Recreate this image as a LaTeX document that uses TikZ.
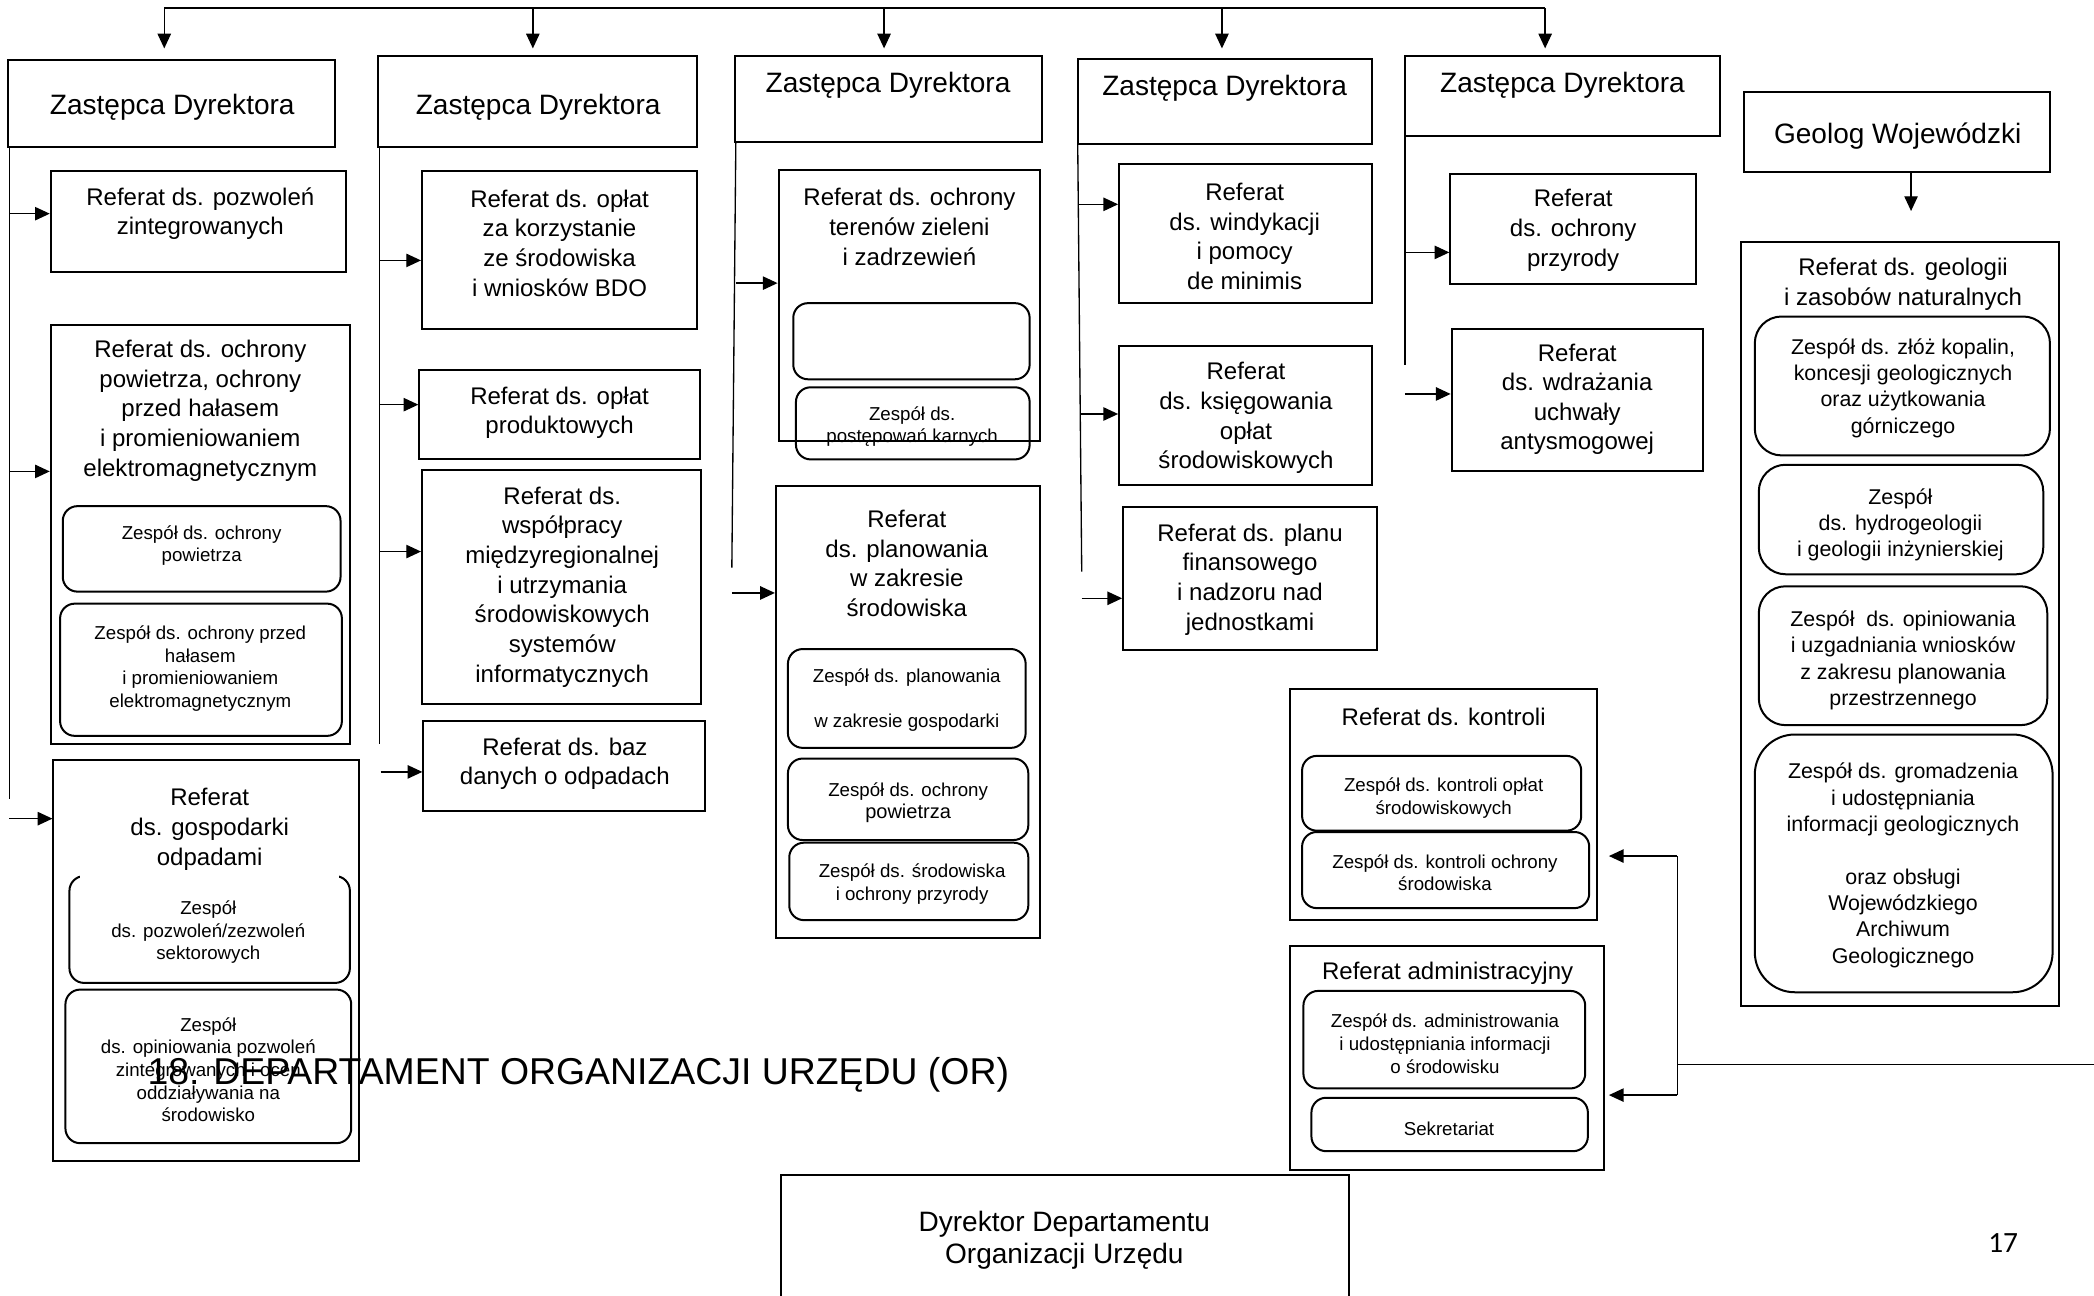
\documentclass[tikz,border=0pt]{standalone}
\usepackage{fontspec}
\setmainfont{Liberation Sans}
\newfontfamily\carlitofont{Carlito}
\usetikzlibrary{arrows.meta,fit}
\begin{document}
\begin{tikzpicture}[x=1pt,y=-1pt,
  bx/.style={draw, line width=1.5pt, inner sep=0pt},
  rbx/.style={draw, line width=1.5pt, inner sep=0pt, rounded corners=11pt},
  gbx/.style={draw, line width=1.5pt, inner sep=0pt, rounded corners=20pt},
  ln/.style={line width=1pt},
  arr/.style={line width=1pt, -{Triangle[length=11pt,width=10pt]}},
  fz/.style={font=\fontsize{21}{25}\selectfont, align=center, inner sep=0pt, yshift=-2pt},
  fr/.style={font=\fontsize{18}{22.2}\selectfont, align=center, inner sep=0pt, yshift=-2pt},
  fs/.style={font=\fontsize{14}{17}\selectfont, align=center, inner sep=0pt, yshift=-2pt},
  fg/.style={font=\fontsize{16}{19.7}\selectfont, align=center, inner sep=0pt, yshift=-2pt}
]
\useasboundingbox (0,0) rectangle (1568,970);
\fill[white] (0,0) rectangle (1568,970);

% ---------- Zastepca boxes ----------
\node[bx, fit={(6,45) (251,110)}] (z1) {};
\node[fz] (z1t) at (129,78) {Zastępca Dyrektora};
\node[bx, fit={(283,42) (522,110)}] (z2) {};
\node[fz] (z2t) at (403,78) {Zastępca Dyrektora};
\node[bx, fit={(550,42) (780,106)}] (z3) {};
\node[fz] (z3t) at (665,62) {Zastępca Dyrektora};
\node[bx, fit={(807,44) (1027,108)}] (z4) {};
\node[fz] (z4t) at (917,64) {Zastępca Dyrektora};
\node[bx, fit={(1052,42) (1288,102)}] (z5) {};
\node[fz] (z5t) at (1170,62) {Zastępca Dyrektora};
\node[bx, fit={(1306,69) (1535,129)}] (geo) {};
\node[fz] (geot) at (1421,100) {Geolog Wojewódzki};

% top bus
\coordinate (b1) at (123,6);
\coordinate (b2) at (399,6);
\coordinate (b3) at (662,6);
\coordinate (b4) at (915,6);
\coordinate (b5) at (1157,6);
\draw[ln] (b1) -- (b5);
\draw[arr, shorten >=8pt] (b1) -- (b1 |- z1.north);
\draw[arr, shorten >=5pt] (b2) -- (b2 |- z2.north);
\draw[arr, shorten >=5pt] (b3) -- (b3 |- z3.north);
\draw[arr, shorten >=7pt] (b4) -- (b4 |- z4.north);
\draw[arr, shorten >=5pt] (b5) -- (b5 |- z5.north);

% ---------- Column 1 ----------
\node[bx, fit={(38,128) (259,204)}] (r1a) {};
\node[fr] (r1at) at (150,158) {Referat ds. pozwoleń\\zintegrowanych};
\node[bx, fit={(38,243) (262,557)}] (r1b) {};
\node[fr] (r1bt) at (150,305.5) {Referat ds. ochrony\\powietrza, ochrony\\przed hałasem\\i promieniowaniem\\elektromagnetycznym};
\node[rbx, fit={(47,379) (255,443)}] (z1b1) {};
\node[fs] (z1b1t) at (151,406.5) {Zespół ds. ochrony\\powietrza};
\node[rbx, fit={(45,452) (256,551)}] (z1b2) {};
\node[fs] (z1b2t) at (150,498.5) {Zespół ds. ochrony przed\\hałasem\\i promieniowaniem\\elektromagnetycznym};
\node[bx, fit={(40,569) (269,869)}] (r1c) {};
\node[fr] (r1ct) at (157,619) {Referat\\ds. gospodarki\\odpadami};
\node[rbx, fit={(52,656) (262,736)}] (z1c1) {};
\fill[white] (60,652.5) rectangle (254,659);
\node[fs] (z1c1t) at (156,696) {Zespół\\ds. pozwoleń/zezwoleń\\sektorowych};
\node[rbx, fit={(49,741) (263,856)}] (z1c2) {};
\node[fs] (z1c2t) at (156,799) {Zespół\\ds. opiniowania pozwoleń\\zintegrowanych i ocen\\oddziaływania na\\środowisko};

\coordinate (c1top) at (7,110);
\coordinate (c1bot) at (7,598);
\draw[ln] (c1top) -- (c1bot);
\coordinate (t1a) at (7,160);
\coordinate (t1b) at (7,353);
\coordinate (t1c) at (7,613);
\draw[arr] (t1a) -- (t1a -| r1a.west);
\draw[arr] (t1b) -- (t1b -| r1b.west);
\draw[arr] (t1c) -- (t1c -| r1c.west);

% ---------- Column 2 ----------
\node[bx, fit={(316,128) (522,246)}] (r2a) {};
\node[fr] (r2at) at (419,180) {Referat ds. opłat\\za korzystanie\\ze środowiska\\i wniosków BDO};
\node[bx, fit={(314,277) (524,344)}] (r2b) {};
\node[fr] (r2bt) at (419,307) {Referat ds. opłat\\produktowych};
\node[bx, fit={(316,352) (525,527)}] (r2c) {};
\node[fr] (r2ct) at (421,437.5) {Referat ds.\\współpracy\\międzyregionalnej\\i utrzymania\\środowiskowych\\systemów\\informatycznych};
\node[bx, fit={(317,540) (528,607)}] (r2d) {};
\node[fr] (r2dt) at (423,570) {Referat ds. baz\\danych o odpadach};

\coordinate (c2top) at (284,110);
\coordinate (c2bot) at (284,557);
\draw[ln] (c2top) -- (c2bot);
\coordinate (t2a) at (284,195);
\coordinate (t2b) at (284,303);
\coordinate (t2c) at (284,413);
\coordinate (t2d) at (285,578);
\draw[arr] (t2a) -- (t2a -| r2a.west);
\draw[arr] (t2b) -- (t2b -| r2b.west);
\draw[arr] (t2c) -- (t2c -| r2c.west);
\draw[arr] (t2d) -- (t2d -| r2d.west);

% ---------- Column 3 ----------
\node[bx, fit={(583,127) (779,330)}] (r3a) {};
\node[fr] (r3at) at (681,168) {Referat ds. ochrony\\terenów zieleni\\i zadrzewień};
\node[rbx, fit={(594,227) (771,284)}] (z3a1) {};
\node[rbx, fit={(596,290) (771,344)}] (z3a2) {};
\node[fs] (z3a2t) at (683,317.5) {Zespół ds.\\postępowań karnych};
\node[bx, fit={(581,364) (779,702)}] (r3b) {};
\node[fr] (r3bt) at (679,420) {Referat\\ds. planowania\\w zakresie\\środowiska};
\node[rbx, fit={(590,486) (768,560)}] (z3b1) {};
\node[fs] (z3b1t) at (679,522) {Zespół ds. planowania\\[17pt]w zakresie gospodarki};
\node[rbx, fit={(590,568) (770,629)}] (z3b2) {};
\node[fs] (z3b2t) at (680,599) {Zespół ds. ochrony\\{\fontsize{15}{17}\selectfont powietrza}};
\node[rbx, fit={(591,631) (770,689)}] (z3b3) {};
\node[fs] (z3b3t) at (683,660) {Zespół ds. środowiska\\i ochrony przyrody};

\coordinate (c3top) at (551,106);
\coordinate (c3bot) at (548,425);
\draw[ln] (c3top) -- (c3bot);
\coordinate (t3a) at (551,212);
\coordinate (t3b) at (548,444);
\draw[arr] (t3a) -- (t3a -| r3a.west);
\draw[arr] (t3b) -- (t3b -| r3b.west);

% ---------- Column 4 ----------
\node[bx, fit={(838,123) (1027,227)}] (r4a) {};
\node[fr] (r4at) at (932,175) {Referat\\ds. windykacji\\i pomocy\\de minimis};
\node[bx, fit={(838,259) (1027,363)}] (r4b) {};
\node[fr] (r4bt) at (933,311) {Referat\\ds. księgowania\\opłat\\środowiskowych};
\node[bx, fit={(841,380) (1031,487)}] (r4c) {};
\node[fr] (r4ct) at (936,432) {Referat ds. planu\\finansowego\\i nadzoru nad\\jednostkami};

\coordinate (c4top) at (807,108);
\coordinate (c4bot) at (810,428);
\draw[ln] (c4top) -- (c4bot);
\coordinate (t4a) at (808,153);
\coordinate (t4b) at (809,310);
\coordinate (t4c) at (810,448);
\draw[arr] (t4a) -- (t4a -| r4a.west);
\draw[arr] (t4b) -- (t4b -| r4b.west);
\draw[arr] (t4c) -- (t4c -| r4c.west);

% ---------- Column 5 ----------
\node[bx, fit={(1086,130) (1270,213)}] (r5a) {};
\node[fr] (r5at) at (1178,170.5) {Referat\\ds. ochrony\\przyrody};
\node[bx, fit={(1087,246) (1275,353)}] (r5b) {};
\node[fr] (r5bt) at (1181,297) {Referat\\ds. wdrażania\\uchwały\\antysmogowej};

\coordinate (c5top) at (1052,102);
\coordinate (c5bot) at (1052,273);
\draw[ln] (c5top) -- (c5bot);
\coordinate (t5a) at (1053,189);
\coordinate (t5b) at (1052,295);
\draw[arr] (t5a) -- (t5a -| r5a.west);
\draw[arr] (t5b) -- (t5b -| r5b.west);

% ---------- Geolog ----------
\node[bx, fit={(1304,181) (1542,753)}] (rg) {};
\node[fr] (rgt) at (1425,211) {Referat ds. geologii\\i zasobów naturalnych};
\node[gbx, fit={(1314,237) (1535,341)}] (zg1) {};
\node[fg] (zg1t) at (1425,288.5) {Zespół ds. złóż kopalin,\\koncesji geologicznych\\oraz użytkowania\\górniczego};
\node[gbx, fit={(1317,348) (1530,430)}] (zg2) {};
\node[fg] (zg2t) at (1423,391) {Zespół\\ds. hydrogeologii\\i geologii inżynierskiej};
\node[gbx, fit={(1317,439) (1533,543)}] (zg3) {};
\node[fg] (zg3t) at (1425,492.5) {Zespół\ \ ds. opiniowania\\i uzgadniania wniosków\\z zakresu planowania\\przestrzennego};
\node[gbx, rounded corners=30pt, fit={(1314,550) (1537,743)}] (zg4) {};
\node[fg] (zg4t) at (1425,646) {Zespół ds. gromadzenia\\i udostępniania\\informacji geologicznych\\[19.7pt]oraz obsługi\\Wojewódzkiego\\Archiwum\\Geologicznego};

\coordinate (ga) at (1431,129);
\coordinate (gb) at (1431,158);
\draw[arr] (ga) -- (gb);

% ---------- Title ----------
\node[inner sep=0pt, yshift=-2pt, font=\fontsize{28}{32}\selectfont] (title) at (433,803) {18. DEPARTAMENT ORGANIZACJI URZĘDU (OR)};

% ---------- Kontroli / administracyjny ----------
\node[bx, fit={(966,516) (1196,689)}] (rk) {};
\node[fr] (rkt) at (1081,535) {Referat ds. kontroli};
\node[rbx, fit={(975,566) (1184,622)}] (zk1) {};
\node[fs] (zk1t) at (1081,595.5) {Zespół ds. kontroli opłat\\środowiskowych};
\node[rbx, fit={(975,623) (1190,680)}] (zk2) {};
\node[fs] (zk2t) at (1082,651.5) {Zespół ds. kontroli ochrony\\środowiska};
\node[bx, fit={(966,708) (1201,876)}] (ra) {};
\node[fr] (rat) at (1084,727) {Referat administracyjny};
\node[rbx, fit={(976,742) (1187,815)}] (za1) {};
\node[fs] (za1t) at (1082,779.5) {Zespół ds. administrowania\\i udostępniania informacji\\o środowisku};
\node[rbx, fit={(982,822) (1189,862)}] (za2) {};
\node[fs] (za2t) at (1085,843) {Sekretariat};

\coordinate (rin) at (1570,797);
\coordinate (rj) at (1256,797);
\coordinate (rk1) at (1256,641);
\coordinate (ra1) at (1256,820);
\draw[ln] (rin) -- (rj);
\draw[ln] (rk1) -- (ra1);
\draw[arr, shorten >=8pt] (rk1) -- (rk1 -| rk.east);
\draw[arr, shorten >=3pt] (ra1) -- (ra1 -| ra.east);

% ---------- Dyrektor ----------
\node[bx, fit={(585,880) (1010,1000)}] (dyr) {};
\node[inner sep=0pt, align=center, yshift=-3pt, font=\fontsize{21}{24}\selectfont] (dyrt) at (797,926) {Dyrektor Departamentu\\Organizacji Urzędu};

\node[inner sep=0pt, font=\carlitofont\fontsize{22}{26}\selectfont] (pg) at (1500,931) {17};
\end{tikzpicture}
\end{document}
